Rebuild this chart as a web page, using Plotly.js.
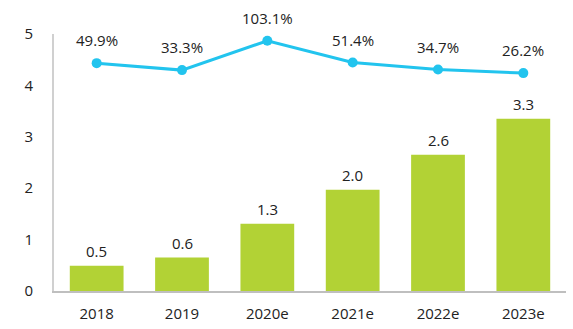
<!DOCTYPE html>
<html>
<head>
<meta charset="utf-8">
<script src="https://cdn.plot.ly/plotly-3.0.1.min.js"></script>
<style>html,body{margin:0;padding:0;background:#fff}#chart{width:573px;height:329px}</style>
</head>
<body>
<div id="chart"></div>
<script>
var categories = ['2018', '2019', '2020e', '2021e', '2022e', '2023e'];
var barValues = [0.49, 0.65, 1.31, 1.97, 2.65, 3.35];
var barLabels = ['0.5', '0.6', '1.3', '2.0', '2.6', '3.3'];
var growth = [49.9, 33.3, 103.1, 51.4, 34.7, 26.2];
var yTicks = [0, 1, 2, 3, 4, 5];

var FONT = '"Open Sans", "Noto Sans", sans-serif';
var TXT = '#222222';
var idx = categories.map(function (c, i) { return i; });

var bars = {
  type: 'bar', x: idx, y: barValues,
  marker: {color: '#B2D235'},
  hoverinfo: 'none', showlegend: false
};
var line = {
  type: 'scatter', mode: 'lines+markers', x: idx, y: growth, yaxis: 'y2',
  line: {color: '#22C4EE', width: 3},
  marker: {color: '#22C4EE', size: 10},
  hoverinfo: 'none', showlegend: false, cliponaxis: false
};

var annotations = [];
idx.forEach(function (i) {
  annotations.push({x: i, y: barValues[i], xref: 'x', yref: 'y', text: barLabels[i],
    showarrow: false, yanchor: 'middle', yshift: 15, font: {family: FONT, size: 15, color: TXT}});
  annotations.push({x: i, y: growth[i], xref: 'x', yref: 'y2', text: growth[i].toFixed(1) + '%',
    showarrow: false, yanchor: 'middle', yshift: 23, font: {family: FONT, size: 15, color: TXT}});
});

var layout = {
  width: 573, height: 329,
  margin: {l: 54, r: 7, t: 33.5, b: 38, pad: 0},
  paper_bgcolor: '#ffffff', plot_bgcolor: '#ffffff',
  font: {family: FONT, size: 15, color: TXT},
  bargap: 0.37,
  xaxis: {range: [-0.5, 5.5], tickvals: idx, ticktext: categories, showline: true,
    linecolor: '#BFBFBF', linewidth: 2,
    showgrid: false, zeroline: false, ticks: '', ticklabelstandoff: 8,
    tickfont: {family: FONT, size: 15, color: TXT}},
  yaxis: {range: [0, 5], tickvals: yTicks, showline: true, linecolor: '#D0D0D0', linewidth: 2,
    showgrid: false, zeroline: false, ticks: '', ticklabelstandoff: 16,
    tickfont: {family: FONT, size: 15, color: TXT}},
  yaxis2: {overlaying: 'y', side: 'right', range: [-492, 119.2], visible: false,
    showgrid: false, zeroline: false},
  annotations: annotations
};

Plotly.newPlot('chart', [bars, line], layout, {staticPlot: true, displayModeBar: false});
</script>
</body>
</html>
